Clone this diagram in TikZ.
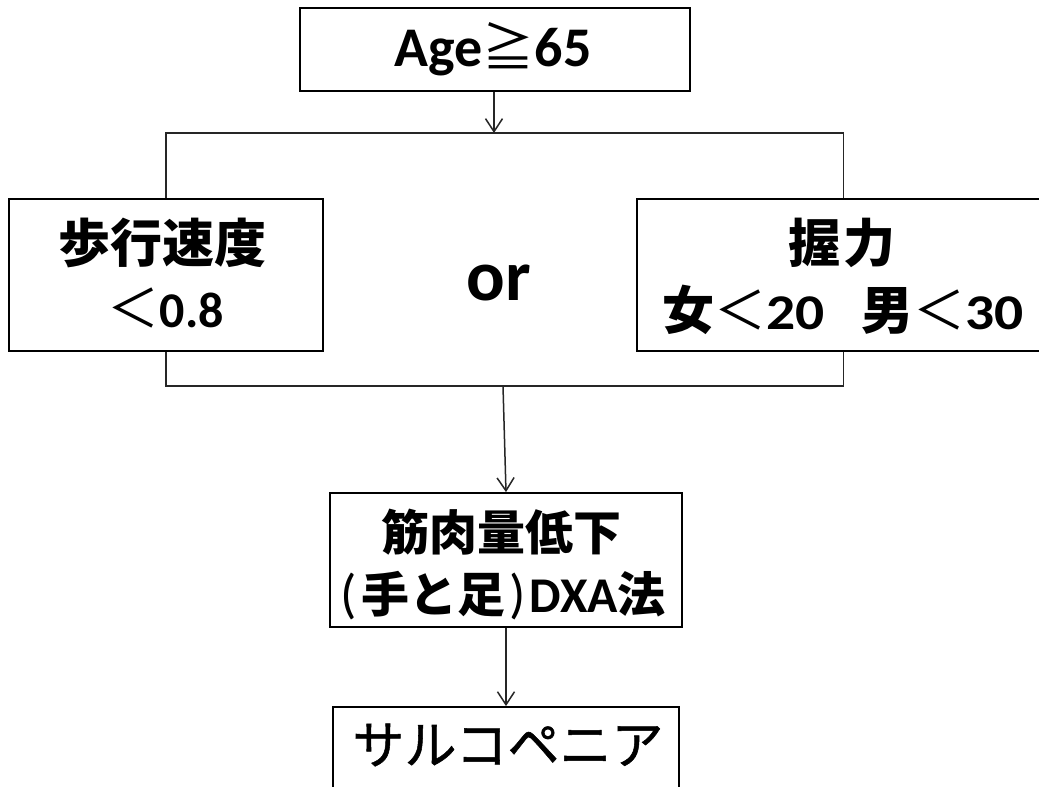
\documentclass[tikz,border=0pt]{standalone}
\usepackage{fontspec}
\setmainfont{Carlito}
\newfontfamily\jp{Noto Sans CJK JP}
\newfontfamily\jpm{Noto Sans CJK JP}[FakeBold=1]
\newfontfamily\latw{Carlito}[FakeStretch=1.15]
\usetikzlibrary{arrows.meta}
\newcommand\Jb[1]{{\jp\bfseries #1}}
\newcommand\Jr[1]{{\jp #1}}
\newcommand\Jm[1]{{\jpm #1}}
\newcommand\Lb[1]{{\fontsize{50}{60}\selectfont\bfseries #1}}
\newcommand\Lw[1]{{\fontsize{50}{60}\selectfont\latw\bfseries #1}}
\newcommand\Par[1]{{\fontsize{54}{60}\selectfont #1}}
\tikzset{
  box/.style={draw=black, line width=1.8pt, inner sep=0pt, minimum width=#1},
  conn/.style={draw=black!85, line width=1.5pt},
  arr/.style={conn, -{Straight Barb[length=13pt,width=17pt,line width=1.5pt]}},
  txt/.style={anchor=base, inner sep=0pt},
  big/.style={font=\fontsize{52}{60}\selectfont},
  mbig/.style={font=\fontsize{48}{60}\selectfont},
}
\begin{document}
\begin{tikzpicture}[x=1pt,y=-1pt]
\useasboundingbox (0,0) rectangle (1039,787);
\clip (0,0) rectangle (1039,787);
\fill[white] (0,0) rectangle (1039,787);
% boxes
\node[box=390pt, minimum height=83pt] (top) at (495,49.5) {};
\node[box=314pt, minimum height=152pt] (left) at (166,275) {};
\node[box=413pt, minimum height=152pt] (right) at (843.5,275) {};
\node[box=352pt, minimum height=134pt] (mid) at (506,560) {};
\node[box=346pt, minimum height=120pt] (bottom) at (506,767) {};
% texts
\node[txt] (ttop) at (493,66) {{\bfseries\fontsize{56}{60}\selectfont Age}{\fontsize{52}{60}\selectfont\Jr{≧}}{\bfseries\fontsize{56}{60}\selectfont 65}};
\node[txt,big] (tleft1) at (162,262) {\Jb{歩行速度}};
\node[txt,big] (tleft2) at (166,327) {\Jr{＜}\Lb{0.8}};
\node[txt] (tor) at (499,300) {\bfseries\fontsize{72}{80}\selectfont or};
\node[txt,big] (tright1) at (842,262) {\Jb{握}\hspace{4pt}\Jb{力}};
\node[txt,big] (tright2) at (843,329) {\Jb{女}\Jr{＜}\Lw{20}\hspace{36pt}\Jb{男}\Jr{＜}\Lw{30}};
\node[txt,mbig] (tmid1) at (501,550) {\Jb{筋肉量低下}};
\node[txt,mbig] (tmid2) at (503,612) {\Par{(}\hspace{5pt}\Jb{手と足}\hspace{4pt}\Par{)}\hspace{4pt}\Lb{DXA}\Jb{法}};
\node[txt,big] (tbot) at (508,764) {\Jm{サルコペニア}};
% connectors
\coordinate (split) at (494,133);
\coordinate (join) at (503,386);
\draw[arr] (top.south -| split) -- (split);
\draw[conn] (left.north) -- (left.north |- split) -- (right.north |- split) -- (right.north);
\draw[conn] (left.south) -- (left.south |- join) -- (right.south |- join) -- (right.south);
\draw[arr] (join) -- (mid.north);
\draw[arr] (mid.south) -- (bottom.north);
\end{tikzpicture}
\end{document}
